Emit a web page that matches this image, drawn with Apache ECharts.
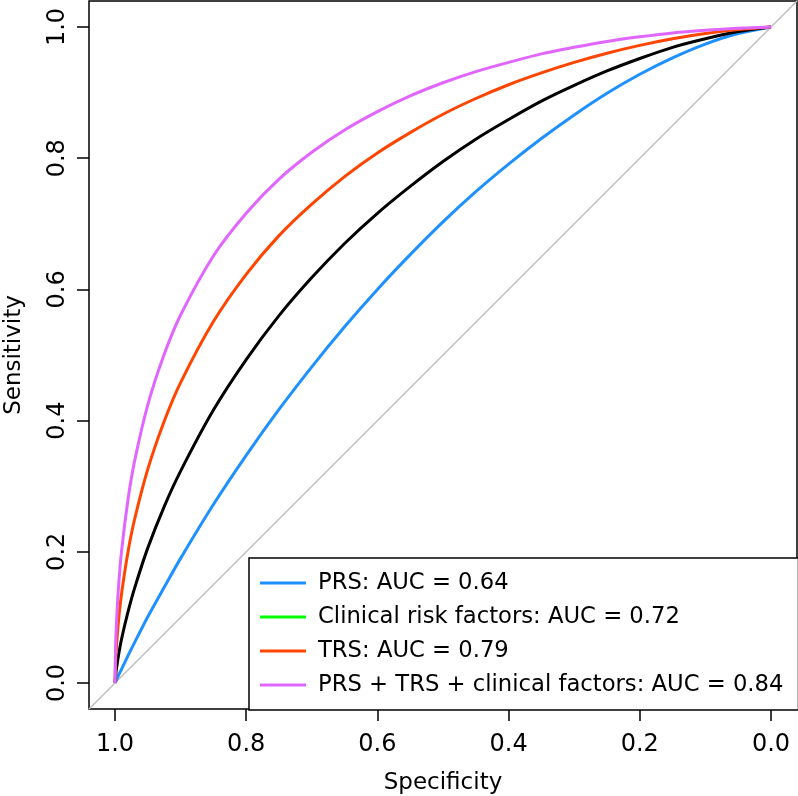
<!DOCTYPE html>
<html>
<head>
<meta charset="utf-8">
<script src="https://cdn.jsdelivr.net/npm/echarts@6/dist/echarts.min.js"></script>
<style>
  html, body { margin: 0; padding: 0; background: #fff; }
  #chart { width: 798px; height: 796px; }
</style>
</head>
<body>
<div id="chart"></div>
<script>
// Specificity grid (x values) shared by all curves
const specificity = [1.0, 0.999, 0.998, 0.995, 0.99, 0.98, 0.97, 0.95, 0.925, 0.9, 0.85, 0.8, 0.75, 0.7, 0.65, 0.6, 0.55, 0.5, 0.45, 0.4, 0.35, 0.3, 0.25, 0.2, 0.15, 0.1, 0.05, 0.0];

// Sensitivity values
const prsSens = [0, 0.002, 0.004, 0.011, 0.021, 0.042, 0.062, 0.101, 0.146, 0.190, 0.272, 0.347, 0.417, 0.482, 0.543, 0.600, 0.653, 0.703, 0.749, 0.791, 0.830, 0.866, 0.899, 0.928, 0.953, 0.974, 0.990, 1.0];
const clinicalSens = [0, 0.012, 0.020, 0.040, 0.067, 0.109, 0.145, 0.206, 0.269, 0.323, 0.416, 0.493, 0.560, 0.618, 0.670, 0.716, 0.757, 0.795, 0.829, 0.859, 0.887, 0.911, 0.933, 0.952, 0.969, 0.982, 0.993, 1.0];
const trsSens = [0, 0.034, 0.052, 0.091, 0.136, 0.201, 0.250, 0.326, 0.399, 0.458, 0.551, 0.623, 0.682, 0.730, 0.772, 0.808, 0.839, 0.867, 0.891, 0.912, 0.930, 0.946, 0.960, 0.972, 0.982, 0.990, 0.996, 1.0];
const combinedSens = [0, 0.059, 0.086, 0.141, 0.201, 0.281, 0.339, 0.424, 0.501, 0.561, 0.651, 0.716, 0.768, 0.809, 0.843, 0.871, 0.895, 0.915, 0.932, 0.946, 0.959, 0.969, 0.978, 0.985, 0.991, 0.995, 0.998, 1.0];

// Reference (chance) line endpoints: sensitivity = 1 - specificity, across the padded frame
const chanceSpec = [1.04, -0.04];
const chanceSens = [-0.04, 1.04];

const seriesNames = [
  'PRS: AUC = 0.64',
  'Clinical risk factors: AUC = 0.72',
  'TRS: AUC = 0.79',
  'PRS + TRS + clinical factors: AUC = 0.84'
];
const curveColors = ['#1E90FF', '#000000', '#FF4500', '#E066FF'];
const legendColors = ['#1E90FF', '#00FF00', '#FF4500', '#E066FF'];

const pairs = (xs, ys) => xs.map((x, i) => [x, ys[i]]);
const FONT = 'DejaVu Sans';
const fmt = v => v.toFixed(1);

const chart = echarts.init(document.getElementById('chart'), null, { renderer: 'canvas' });

const tickStyle = { show: true, inside: false, length: 12, lineStyle: { color: '#000', width: 1.5 } };
const labelStyle = { fontFamily: FONT, fontSize: 24, color: '#000', formatter: fmt };
const nameStyle = { fontFamily: FONT, fontSize: 23, color: '#000' };

const curveSeries = [prsSens, clinicalSens, trsSens, combinedSens].map((ys, i) => ({
  type: 'line',
  name: seriesNames[i],
  xAxisIndex: 0, yAxisIndex: 0,
  data: pairs(specificity, ys),
  symbol: 'none',
  smooth: 0.3,
  clip: false,
  lineStyle: { color: curveColors[i], width: 3 },
  itemStyle: { color: legendColors[i] },
  z: 3 + i
}));

chart.setOption({
  animation: false,
  backgroundColor: '#fff',
  grid: [
    // data region: specificity / sensitivity from 0 to 1
    { left: 115, top: 27, width: 656, height: 656, show: false, outerBoundsMode: 'none', containLabel: false },
    // padded frame (R style 4% extension) carrying the plot box
    { left: 89, top: 1, width: 708, height: 708, show: true, borderColor: '#000', borderWidth: 1.5,
      backgroundColor: 'transparent', outerBoundsMode: 'none', containLabel: false }
  ],
  xAxis: [
    {
      type: 'value', gridIndex: 0, min: 0, max: 1, interval: 0.2, inverse: true,
      offset: 26,
      axisLine: { show: false, onZero: false }, splitLine: { show: false },
      axisTick: tickStyle,
      axisLabel: Object.assign({ margin: 24 }, labelStyle),
      name: 'Specificity', nameLocation: 'middle', nameGap: 63, nameTextStyle: nameStyle
    },
    {
      type: 'value', gridIndex: 1, min: -0.04, max: 1.04, inverse: true, show: false
    }
  ],
  yAxis: [
    {
      type: 'value', gridIndex: 0, min: 0, max: 1, interval: 0.2,
      offset: 26,
      axisLine: { show: false, onZero: false }, splitLine: { show: false },
      axisTick: tickStyle,
      axisLabel: Object.assign({ margin: 19, rotate: 90 }, labelStyle),
      name: 'Sensitivity', nameLocation: 'middle', nameGap: 63, nameTextStyle: nameStyle
    },
    {
      type: 'value', gridIndex: 1, min: -0.04, max: 1.04, show: false
    }
  ],
  legend: {
    orient: 'vertical',
    left: 249,
    top: 558,
    padding: [13, 15, 13, 11],
    itemWidth: 46,
    itemHeight: 3,
    itemGap: 10,
    icon: 'path://M0,0H46V3H0Z',
    borderColor: '#000',
    borderWidth: 1.5,
    borderRadius: 0,
    backgroundColor: '#fff',
    textStyle: { fontFamily: FONT, fontSize: 22.7, color: '#000', lineHeight: 24, padding: [0, 0, 0, 7] },
    data: seriesNames
  },
  series: [
    {
      type: 'line', name: 'chance', xAxisIndex: 1, yAxisIndex: 1,
      data: pairs(chanceSpec, chanceSens),
      symbol: 'none', lineStyle: { color: '#BEBEBE', width: 1.5 }, z: 2, silent: true
    }
  ].concat(curveSeries)
});
</script>
</body>
</html>
